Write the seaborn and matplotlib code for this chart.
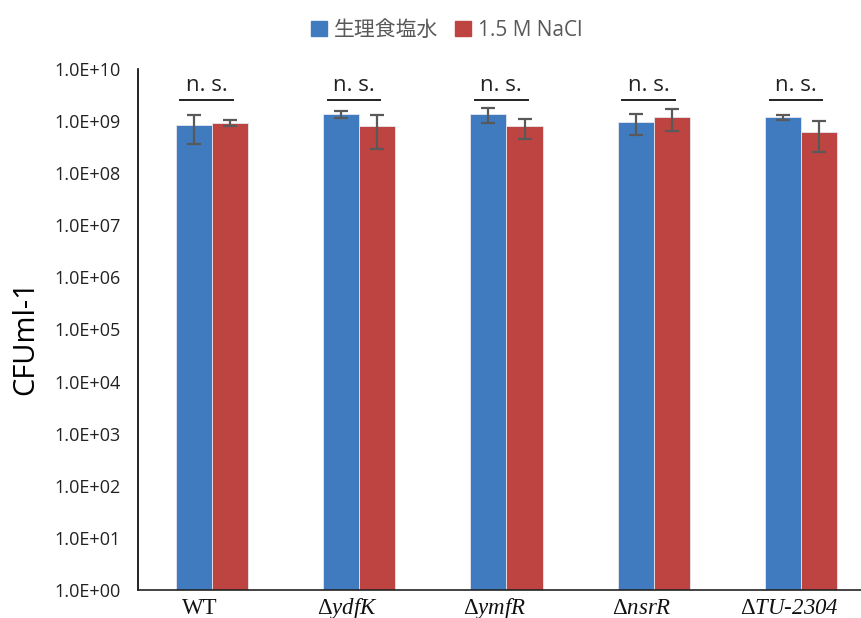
import matplotlib
matplotlib.use("Agg")
import matplotlib.pyplot as plt
import matplotlib.transforms as mtransforms
import seaborn as sns
import pandas as pd
import numpy as np

# Strains and CFU counts (mean and standard deviation) per treatment
strains = ["WT", "ydfK", "ymfR", "nsrR", "TU-2304"]
treatments = ["生理食塩水", "1.5 M NaCl"]
saline_mean = [8.5e8, 1.35e9, 1.35e9, 9.6e8, 1.18e9]
saline_sd = [4.8e8, 2.2e8, 4.5e8, 4.2e8, 1.4e8]
nacl_mean = [9.1e8, 7.9e8, 7.9e8, 1.18e9, 6.2e8]
nacl_sd = [1.2e8, 5.0e8, 3.3e8, 5.3e8, 3.7e8]
significance = ["n. s.", "n. s.", "n. s.", "n. s.", "n. s."]
tick_labels = ["WT", "Δ$\\mathit{ydfK}$", "Δ$\\mathit{ymfR}$", "Δ$\\mathit{nsrR}$",
               "Δ$\\mathit{TU}$-$\\mathit{2304}$"]

blue = "#3F7BBE"
red = "#BE4441"

sns.set_style("white")
plt.rcParams["font.family"] = ["Open Sans", "Noto Sans CJK JP", "DejaVu Sans"]
# gene names are set in italic serif, digits included
plt.rcParams["mathtext.fontset"] = "custom"
plt.rcParams["mathtext.rm"] = "Liberation Serif:italic"
plt.rcParams["mathtext.it"] = "Liberation Serif:italic"

df = pd.DataFrame({
    "strain": strains * 2,
    "treatment": [treatments[0]] * len(strains) + [treatments[1]] * len(strains),
    "cfu": saline_mean + nacl_mean,
    "sd": saline_sd + nacl_sd,
})

fig = plt.figure(figsize=(8.62, 6.18), dpi=100)
ax = fig.add_axes([138 / 862, 28 / 618, 737 / 862, 521 / 618])
ax.set_yscale("log")

sns.barplot(data=df, x="strain", y="cfu", hue="treatment", order=strains,
            hue_order=treatments, palette=[blue, red], width=0.49, gap=0,
            saturation=1, errorbar=None, edgecolor="#E6E6EE", linewidth=0.6,
            ax=ax, legend=False)

# error bars centred on each bar top
for container, sds in zip(ax.containers, [saline_sd, nacl_sd]):
    for patch, sd in zip(container.patches, sds):
        x = patch.get_x() + patch.get_width() / 2
        top = patch.get_y() + patch.get_height()
        ax.errorbar(x, top, yerr=sd, fmt="none", ecolor="#595959",
                    elinewidth=1.6, capsize=5, capthick=1.6, zorder=5)

ax.set_ylim(1, 1e10)
ax.set_xlim(-0.5, len(strains) - 0.5)
ax.set_yticks([10.0 ** k for k in range(0, 11)])
ax.set_yticklabels([f"1.0E+{k:02d}" for k in range(0, 11)], fontsize=13,
                   color="#222222")
ax.minorticks_off()
ax.tick_params(axis="y", direction="inout", length=9, width=1, color="black",
               pad=8)
ax.tick_params(axis="x", length=0, pad=17)
ax.set_xticks(range(len(strains)))
ax.set_xticklabels(tick_labels, fontsize=16.5, family="Liberation Serif",
                   color="#111111")
shift = mtransforms.ScaledTranslation(-12 / 100, 0, fig.dpi_scale_trans)
for lbl in ax.get_xticklabels():
    lbl.set_verticalalignment("baseline")
    lbl.set_transform(lbl.get_transform() + shift)
ax.set_xlabel("")
ax.set_ylabel("")

for side in ["top", "right"]:
    ax.spines[side].set_visible(False)
ax.spines["left"].set_color("black")
ax.spines["bottom"].set_color("#222222")
ax.spines["left"].set_linewidth(1.2)
ax.spines["bottom"].set_linewidth(1.2)

# significance brackets above each group
for i, label in enumerate(significance):
    x0, x1 = i - 0.22, i + 0.15
    ax.plot([x0, x1], [2.5e9, 2.5e9], color="#222222", lw=1.4,
            solid_capstyle="butt", clip_on=False)
    ax.text((x0 + x1) / 2, 3.0e9, label, ha="center", va="bottom",
            fontsize=16, color="#222222")

fig.text(26 / 862, 1 - 338 / 618, "CFUml-1", rotation=90, ha="center",
         va="center", fontsize=21, color="black")

handles = [plt.Rectangle((0, 0), 1, 1, color=blue),
           plt.Rectangle((0, 0), 1, 1, color=red)]
fig.legend(handles, treatments, loc="center",
           bbox_to_anchor=(447 / 862, 1 - 30 / 618), ncol=2, frameon=False,
           handlelength=0.75, handleheight=0.75, handletextpad=0.35,
           columnspacing=0.8, labelcolor="#595959",
           prop={"family": ["Open Sans", "Noto Sans CJK JP"], "size": 15})

fig.savefig("out.png", dpi=100)
